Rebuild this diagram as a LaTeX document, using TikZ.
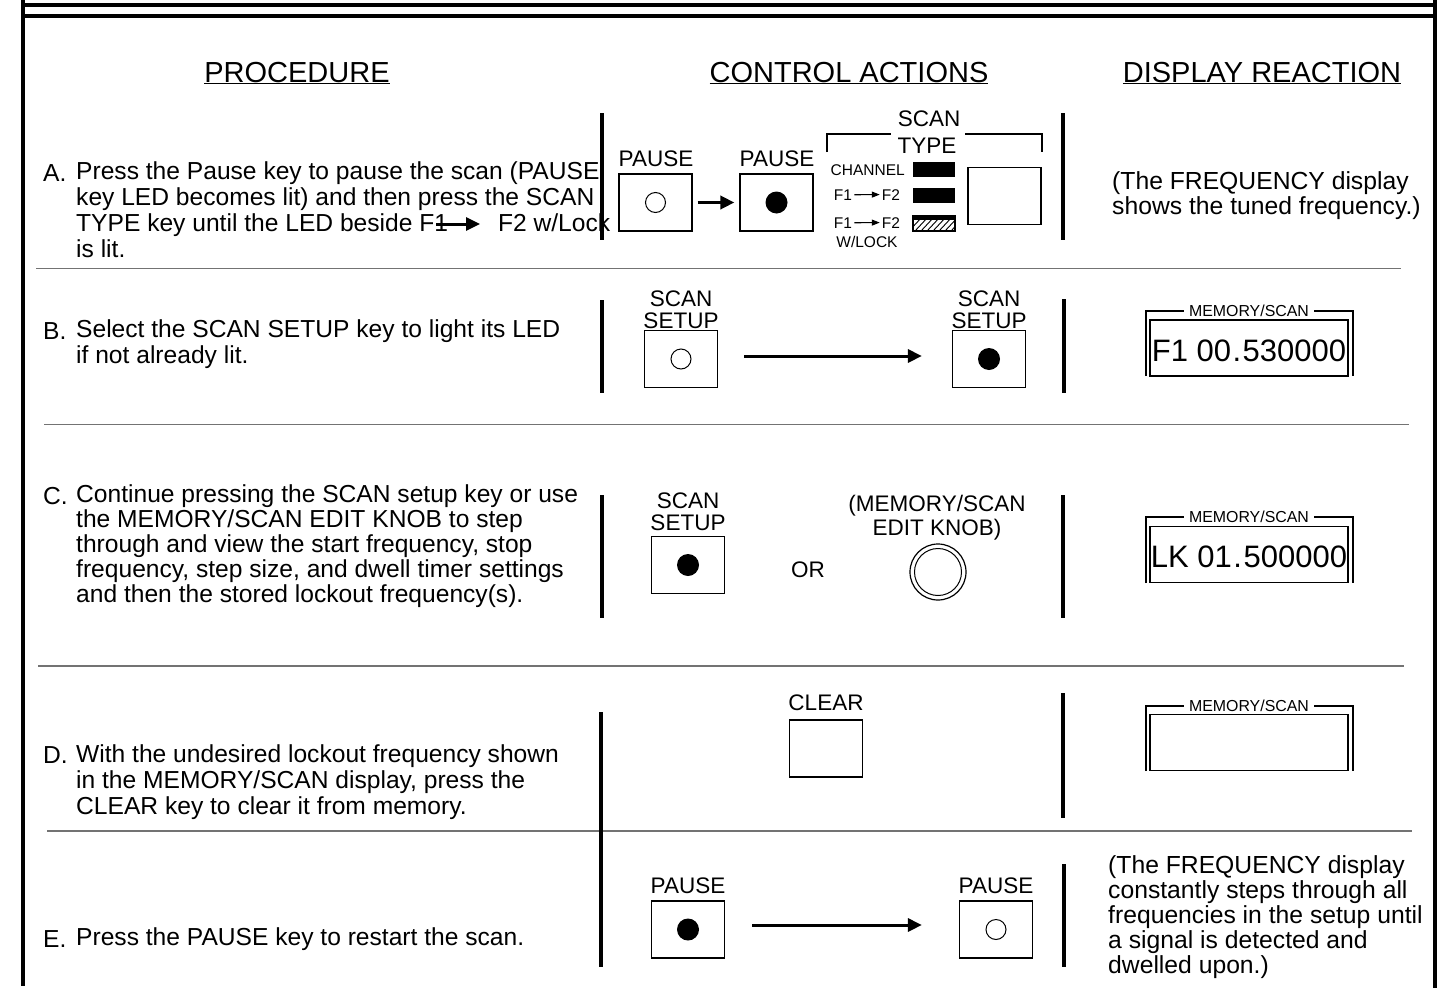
\documentclass[tikz,border=0pt]{standalone}
\usepackage{fontspec}
\setmainfont{Liberation Sans}
\usetikzlibrary{arrows.meta}
\begin{document}
\begin{tikzpicture}[x=1pt,y=-1pt,
  framel/.style={line width=4pt},
  rowsep/.style={line width=1.8pt, draw=black!55},
  colsep/.style={line width=3.6pt},
  hdr/.style={font=\fontsize{29}{32}\selectfont, anchor=base, inner sep=0pt},
  body/.style={font=\fontsize{24.6}{26}\selectfont, align=left, anchor=base west, inner sep=0pt},
  disp/.style={font=\fontsize{24.7}{25.5}\selectfont, align=left, anchor=base west, inner sep=0pt},
  letter/.style={font=\fontsize{24.6}{26}\selectfont, anchor=base west, inner sep=0pt},
  lbl/.style={font=\fontsize{22.5}{22}\selectfont, align=center, anchor=base, inner sep=0pt},
  tinytxt/.style={font=\fontsize{15.5}{17}\selectfont, anchor=base, inner sep=0pt},
  memtxt/.style={font=\fontsize{15.9}{17}\selectfont, anchor=base, inner sep=0pt},
  keybox/.style={draw, line width=1.2pt, minimum width=73pt, minimum height=57pt, inner sep=0pt},
  ledon/.style={circle, fill=black, minimum size=22pt, inner sep=0pt},
  ledoff/.style={circle, draw, line width=1pt, minimum size=20pt, inner sep=0pt},
  ledbar/.style={fill=black, minimum width=42pt, minimum height=15pt, inner sep=0pt},
  bigarrow/.style={line width=3pt, -{Triangle[length=14pt,width=13pt]}},
  smallarrow/.style={line width=1.2pt, -{Triangle[length=8pt,width=6pt]}},
  dispbox/.style={draw, line width=1.2pt, minimum width=198pt, minimum height=56pt, inner sep=0pt},
  bracket/.style={line width=1.2pt},
  bigdisp/.style={font=\fontsize{31}{32}\selectfont, anchor=base, inner sep=0pt}
]
\useasboundingbox (0,0) rectangle (1444,988);
\fill[white] (0,0) rectangle (1444,988);

% ---------- frame ----------
\draw[framel] (21,4.5) -- (1437,4.5);
\draw[framel] (21,16) -- (1437,16);
\draw[framel] (23,0) -- (23,986);
\draw[framel] (1435,0) -- (1435,988);

% ---------- headers ----------
\node[hdr] (hproc) at (297,82) {\underline{PROCEDURE}};
\node[hdr] (hctrl) at (849,82) {\underline{CONTROL ACTIONS}};
\node[hdr] (hdisp) at (1262,82) {\underline{DISPLAY REACTION}};

% ---------- row separators ----------
\draw[rowsep] (36,268.5) -- (1401,268.5);
\draw[rowsep] (44,424.5) -- (1409,424.5);
\draw[rowsep] (38,666) -- (1404,666);
\draw[rowsep] (47,831) -- (1412,831);

% (multi-line nodes: base anchor = baseline of the last line)
% ================= ROW A =================
\node[letter] (la) at (43,181) {A.};
\node[body] (ta) at (76,257) {Press the Pause key to pause the scan (PAUSE\\key LED becomes lit) and then press the SCAN\\TYPE key until the LED beside F1\hspace*{50pt}F2 w/Lock\\is lit.};
\coordinate (aa1) at (436,224);
\coordinate (aa2) at (480,224);
\draw[bigarrow] (aa1) -- (aa2);

\draw[colsep] (602,113) -- (602,240);
\draw[colsep] (1063,113) -- (1063,240);

\node[lbl] (pl1) at (656,166) {PAUSE};
\node[keybox] (pk1) at (655.5,202.5) {};
\node[ledoff] (pd1) at (pk1) {};
\node[lbl] (pl2) at (777,166) {PAUSE};
\node[keybox] (pk2) at (776.5,202.5) {};
\node[ledon] (pd2) at (pk2) {};
\draw[bigarrow, line width=3.5pt, shorten <=5pt, shorten >=5pt] (pk1.east) -- (pk2.west);

\node[lbl] (st1) at (929,126) {SCAN};
\node[lbl] (st2) at (927,153) {TYPE};
\draw[bracket] (827,152) -- (827,134) -- (891,134);
\draw[bracket] (965,134) -- (1042,134) -- (1042,152);
\node[tinytxt, anchor=base east] (ch) at (905,175) {CHANNEL};
\node[ledbar] (lb1) at (934,169.5) {};
\node[tinytxt] (f1a) at (843,200) {F1};
\node[tinytxt] (f2a) at (891,200) {F2};
\draw[smallarrow] ([xshift=2pt]f1a.east) -- ([xshift=-2pt]f2a.west);
\node[ledbar] (lb2) at (934,195.5) {};
\node[tinytxt] (f1b) at (843,228) {F1};
\node[tinytxt] (f2b) at (891,228) {F2};
\draw[smallarrow] ([xshift=2pt]f1b.east) -- ([xshift=-2pt]f2b.west);
\node[tinytxt] (wl) at (867,247) {W/LOCK};
\node[draw, line width=1.2pt, minimum width=42pt, minimum height=15pt, inner sep=0pt] (lb3) at (934,223.5) {};
\fill (lb3.north west) rectangle ([yshift=-4.5pt]lb3.north east);
\begin{scope}
  \clip (lb3.south west) rectangle (lb3.north east);
  \foreach \i in {903,909,...,957} \draw[line width=0.9pt] (\i,231) -- ++(14,-15);
\end{scope}
\node[keybox] (stk) at (1004.5,196) {};

\node[disp] (da) at (1112,214.5) {(The FREQUENCY display\\shows the tuned frequency.)};

% ================= ROW B =================
\node[letter] (lbB) at (43,339) {B.};
\node[body] (tb) at (76,363) {Select the SCAN SETUP key to light its LED\\if not already lit.};

\draw[colsep] (602,300) -- (602,393);
\draw[colsep] (1064,299) -- (1064,393);

\node[lbl] (sb1) at (681,328) {SCAN\\SETUP};
\node[keybox] (sk1) at (681,359) {};
\node[ledoff] (sd1) at (sk1) {};
\node[lbl] (sb2) at (989,328) {SCAN\\SETUP};
\node[keybox] (sk2) at (989,359) {};
\node[ledon] (sd2) at (sk2) {};
\draw[bigarrow, shorten <=26pt, shorten >=30pt] ([yshift=3pt]sk1.east) -- ([yshift=3pt]sk2.west);

\draw[bracket] (1146,376) -- (1146,311) -- (1184,311);
\draw[bracket] (1314,311) -- (1353,311) -- (1353,376);
\node[memtxt] (mb) at (1249,316) {MEMORY/SCAN};
\node[dispbox] (db) at (1249,348) {};
\node[bigdisp] (dbt) at (1249,361) {F1 00\kern1.5pt.\kern1.5pt530000};

% ================= ROW C =================
\node[letter] (lc) at (43,504) {C.};
\node[body, font=\fontsize{24.6}{25}\selectfont] (tc) at (76,602) {Continue pressing the SCAN setup key or use\\the MEMORY/SCAN EDIT KNOB to step\\through and view the start frequency, stop\\frequency, step size, and dwell timer settings\\and then the stored lockout frequency(s).};

\draw[colsep] (602,495) -- (602,618);
\draw[colsep] (1063,495) -- (1063,618);

\node[lbl] (sc1) at (688,530) {SCAN\\SETUP};
\node[keybox] (sck) at (688,565) {};
\node[ledon] (scd) at (sck) {};
\node[lbl] (orr) at (808,577) {OR};
\node[lbl, font=\fontsize{22.5}{24}\selectfont] (kl) at (937,535) {(MEMORY/SCAN\\EDIT KNOB)};
\node[circle, draw, line width=1.2pt, minimum size=56pt, inner sep=0pt] (kn) at (938,572) {};
\node[circle, draw, line width=1pt, minimum size=47pt, inner sep=0pt] (kni) at (kn) {};

\draw[bracket] (1146,583) -- (1146,517) -- (1184,517);
\draw[bracket] (1314,517) -- (1353,517) -- (1353,583);
\node[memtxt] (mc) at (1249,522) {MEMORY/SCAN};
\node[dispbox] (dc) at (1249,554.5) {};
\node[bigdisp] (dct) at (1249,567.5) {LK 01\kern1.5pt.\kern1.5pt500000};

% ================= ROW D =================
\node[letter] (ld) at (43,763) {D.};
\node[body] (td) at (76,814) {With the undesired lockout frequency shown\\in the MEMORY/SCAN display, press the\\CLEAR key to clear it from memory.};

\draw[colsep] (601,712) -- (601,880);
\draw[colsep] (1063,693) -- (1063,818);

\node[lbl] (cl) at (826,710) {CLEAR};
\node[keybox] (ck) at (826,748.5) {};

\draw[bracket] (1146,771) -- (1146,706) -- (1184,706);
\draw[bracket] (1314,706) -- (1353,706) -- (1353,771);
\node[memtxt] (md) at (1249,711) {MEMORY/SCAN};
\node[dispbox] (dd) at (1249,742.5) {};

% ================= ROW E =================
\node[letter] (le) at (43,947) {E.};
\node[body] (te) at (76,945) {Press the PAUSE key to restart the scan.};

\draw[colsep] (601,864) -- (601,967);
\draw[colsep] (1064,864) -- (1064,967);

\node[lbl] (pe1) at (688,893) {PAUSE};
\node[keybox] (pek1) at (688,929.5) {};
\node[ledon] (ped1) at (pek1) {};
\node[lbl] (pe2) at (996,893) {PAUSE};
\node[keybox] (pek2) at (996,929.5) {};
\node[ledoff] (ped2) at (pek2) {};
\draw[bigarrow, shorten <=27pt, shorten >=37pt] ([yshift=4.5pt]pek1.east) -- ([yshift=4.5pt]pek2.west);

\node[disp, font=\fontsize{24.7}{25}\selectfont] (de) at (1108,973) {(The FREQUENCY display\\constantly steps through all\\frequencies in the setup until\\a signal is detected and\\dwelled upon.)};
\end{tikzpicture}
\end{document}
